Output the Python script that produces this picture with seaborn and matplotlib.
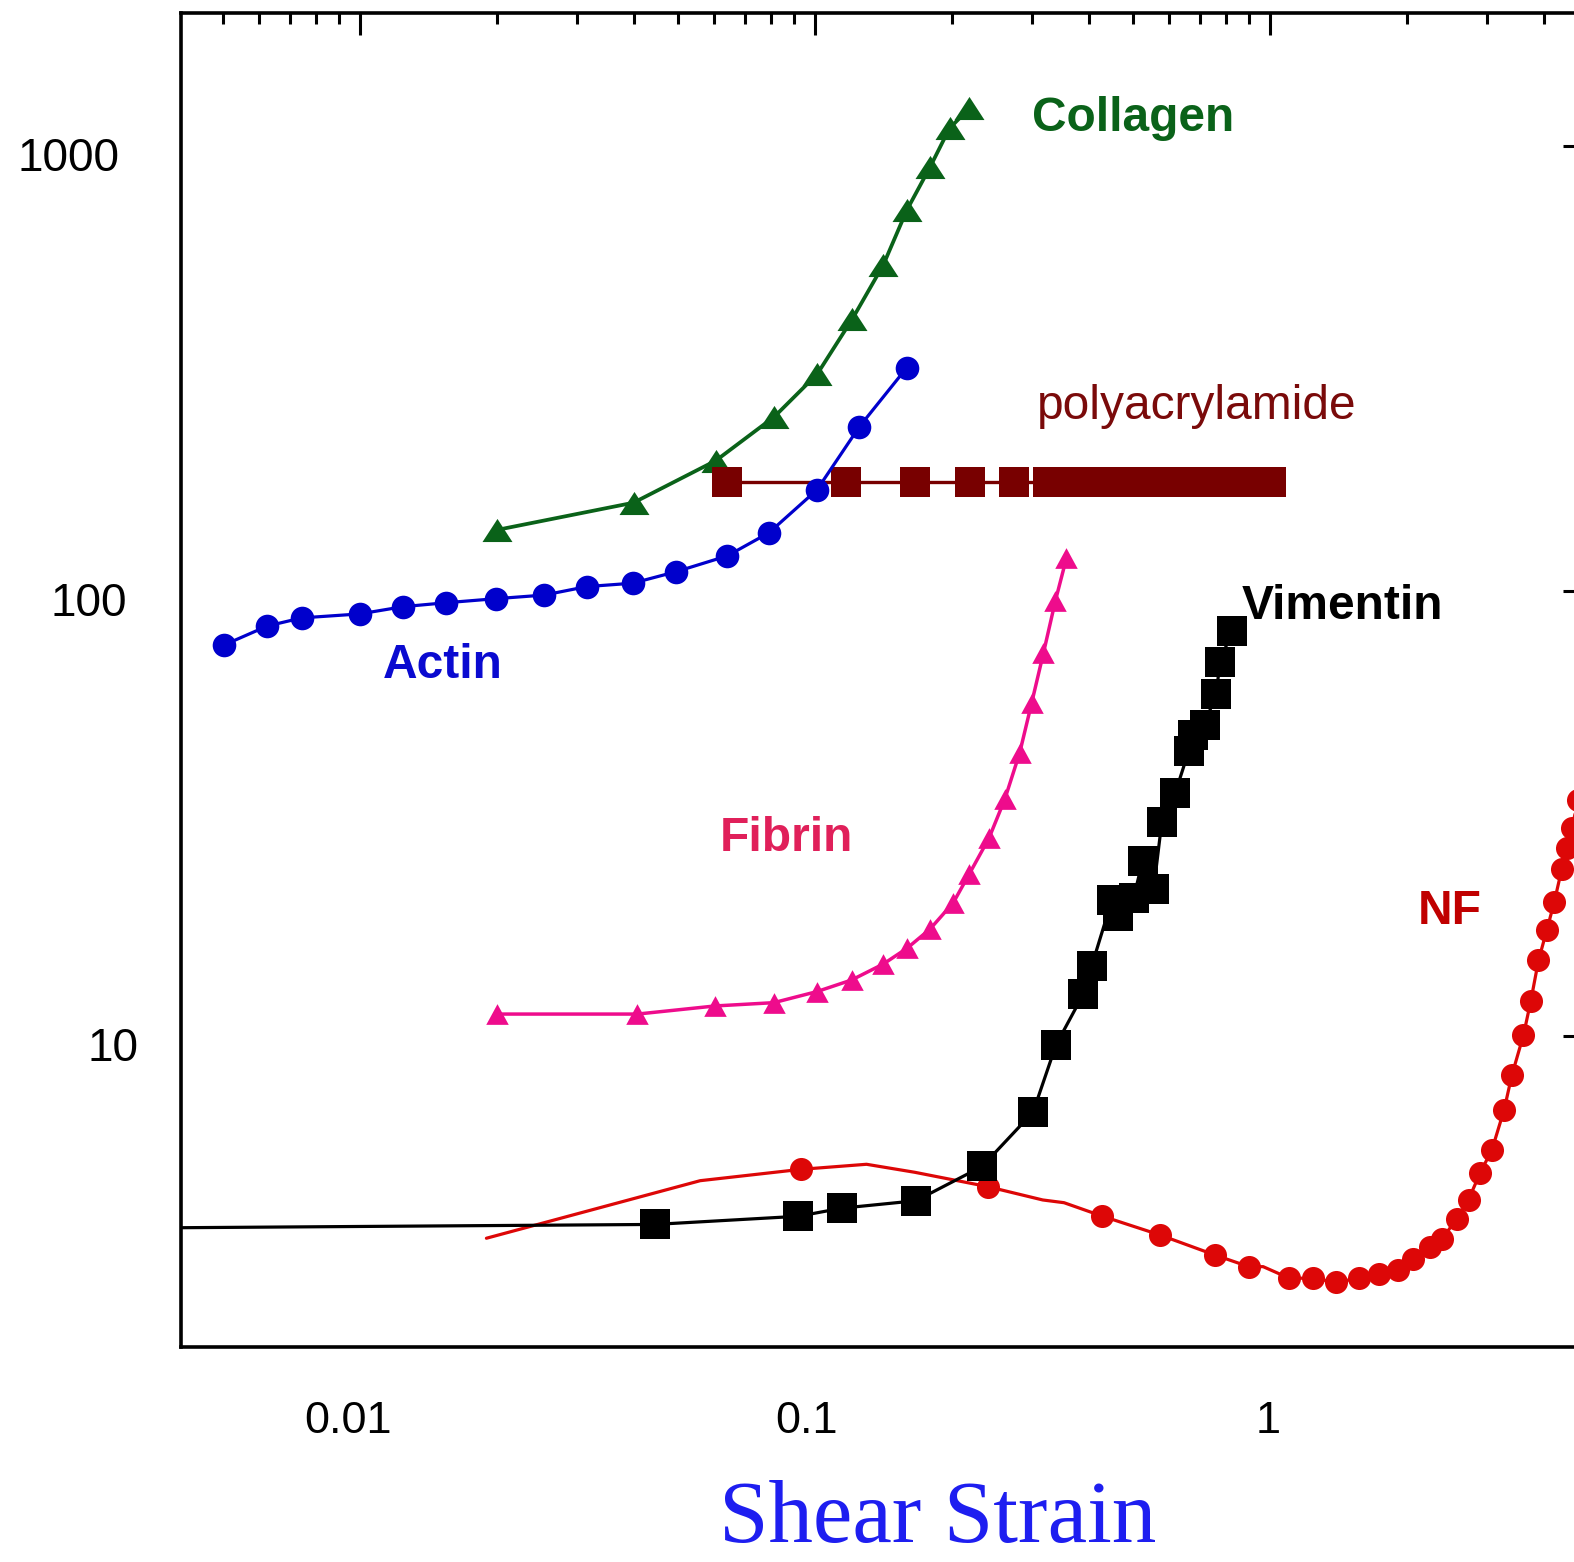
import numpy as np
import matplotlib
matplotlib.use("Agg")
import matplotlib.pyplot as plt
from matplotlib.transforms import ScaledTranslation
from matplotlib.ticker import NullFormatter, LogLocator
import seaborn as sns

# ---------------- data ----------------
actin_x = [0.00502, 0.00625, 0.00744, 0.00998, 0.01243, 0.01545, 0.0199, 0.02537,
           0.0315, 0.0397, 0.0495, 0.0641, 0.0792, 0.1009, 0.125, 0.1588]
actin_y = [75.6, 83.4, 87.0, 88.8, 92.2, 94.1, 96.1, 97.9,
           102.3, 104.1, 110.5, 119.9, 135.2, 168.7, 233.7, 317.0]

collagen_x = [0.01995, 0.0399, 0.0605, 0.0814, 0.1011, 0.1206, 0.1412, 0.1591,
              0.1788, 0.1974, 0.2183]
collagen_y = [137.1, 157.9, 196.3, 246.5, 307.4, 407.9, 540.4, 718.1,
              895.7, 1096, 1215]

paa_x = [0.064, 0.117, 0.166, 0.219, 0.274, 0.325, 0.378, 0.430, 0.483, 0.535,
         0.587, 0.640, 0.692, 0.744, 0.796, 0.849, 0.901, 0.953, 1.005]
paa_y = [175.5, 175.5, 175.5, 175.5, 175.5, 175.5, 175.5, 175.5, 175.5, 175.5,
         175.5, 175.5, 175.5, 175.5, 175.5, 175.5, 175.5, 175.5, 175.5]

fibrin_x = [0.02, 0.0407, 0.0603, 0.0811, 0.1009, 0.1203, 0.1412, 0.1592, 0.1789,
            0.2012, 0.218, 0.241, 0.2611, 0.2816, 0.299, 0.3176, 0.3372, 0.3566]
fibrin_y = [11.2, 11.2, 11.68, 11.88, 12.58, 13.36, 14.51, 15.74, 17.39,
            19.93, 23.09, 27.82, 34.03, 43.3, 55.9, 72.6, 94.9, 118.4]

vim_x = [0.003, 0.0444, 0.0919, 0.1144, 0.1666, 0.2328, 0.3013, 0.3384, 0.3888,
         0.405, 0.449, 0.4634, 0.501, 0.5243, 0.5546, 0.5778, 0.6186, 0.6624,
         0.6761, 0.7178, 0.7605, 0.7765, 0.8228]
vim_y = [3.70, 3.771, 3.934, 4.102, 4.263, 5.09, 6.743, 9.55, 12.43,
         14.33, 20.21, 18.58, 20.42, 24.71, 21.39, 30.2, 35.16, 43.7,
         47.54, 50.1, 58.7, 69.25, 81.1]

nf_x = [0.01895, 0.0559, 0.0932, 0.1297, 0.1656, 0.2399, 0.3164, 0.3524, 0.4265,
        0.5726, 0.7551, 0.8975, 0.9652, 1.1015, 1.2403, 1.397, 1.567, 1.734,
        1.914, 2.065, 2.247, 2.385, 2.572, 2.729, 2.894, 3.072, 3.268, 3.398,
        3.604, 3.741, 3.888, 4.056, 4.210, 4.377, 4.489, 4.604, 4.75]
nf_y = [3.511, 4.729, 5.016, 5.148, 4.939, 4.584, 4.280, 4.220, 3.940,
        3.571, 3.221, 3.031, 3.031, 2.855, 2.855, 2.796, 2.855, 2.919,
        2.972, 3.155, 3.348, 3.496, 3.884, 4.286, 4.925, 5.546, 6.83, 8.16,
        10.05, 12.0, 14.78, 17.31, 19.97, 23.78, 26.5, 29.27, 33.9]
nf_marked = [2, 5, 8, 9, 10, 11, 13, 14, 15, 16, 17, 18, 19, 20, 21, 22, 23, 24,
             25, 26, 27, 28, 29, 30, 31, 32, 33, 34, 35, 36]

x_ticks = [0.01, 0.1, 1]
x_tick_labels = ["0.01", "0.1", "1"]
y_ticks = [10, 100, 1000]
y_tick_labels = ["10", "100", "1000"]

labels = ["Collagen", "polyacrylamide", "Actin", "Fibrin", "Vimentin", "NF"]
label_x = [0.2998, 0.307, 0.01123, 0.0618, 0.868, 2.115]
label_y = [1081, 244, 63.6, 26.04, 86.5, 17.89]

# ---------------- style ----------------
sns.set_style("white")
plt.rcParams["font.family"] = ["Liberation Sans", "DejaVu Sans"]

W, H = 1574, 1562
fig = plt.figure(figsize=(W / 100, H / 100), dpi=100)
ax = fig.add_axes([181 / W, (H - 1347) / H, 1404 / W, 1334 / H])
ax.set_xscale("log")
ax.set_yscale("log")

col_actin = "#0000cc"
col_coll = "#0a6219"
col_paa = "#780000"
col_fib = "#ee0c8c"
col_vim = "#000000"
col_nf = "#dd0707"

tri_coll = [(0, 0.77), (-1, -0.77), (1, -0.77)]
tri_fib = [(0, 0.92), (-1, -0.92), (1, -0.92)]


def draw(x, y, color, marker, ms, lw, **kw):
    sns.lineplot(x=x, y=y, ax=ax, color=color, marker=marker, markersize=ms,
                 markeredgewidth=0, markeredgecolor=color, linewidth=lw,
                 estimator=None, sort=False, legend=False, **kw)


draw(nf_x, nf_y, col_nf, "o", 16.6, 2.3, markevery=nf_marked)
draw(vim_x, vim_y, col_vim, "s", 20.9, 2.3)
draw(fibrin_x, fibrin_y, col_fib, tri_fib, 16.2, 2.5)
draw(collagen_x, collagen_y, col_coll, tri_coll, 21.6, 2.7)
draw(paa_x, paa_y, col_paa, "s", 20.9, 2.4)
draw(actin_x, actin_y, col_actin, "o", 17.0, 2.3)

ax.set_xlim(0.00404, 4.92)
ax.set_ylim(2.0, 1990)

# ticks
ax.set_xticks(x_ticks, labels=x_tick_labels)
ax.set_yticks(y_ticks, labels=y_tick_labels)
ax.xaxis.set_minor_locator(LogLocator(base=10, subs=np.arange(2, 10) * 1.0, numticks=50))
ax.yaxis.set_minor_locator(LogLocator(base=10, subs=np.arange(2, 10) * 1.0, numticks=50))
ax.xaxis.set_minor_formatter(NullFormatter())
ax.yaxis.set_minor_formatter(NullFormatter())
ax.tick_params(which="both", direction="in", top=True, right=True,
               color="black", width=2.2, labelcolor="black")
ax.tick_params(which="major", length=16)
ax.tick_params(which="minor", length=8)
ax.tick_params(axis="x", which="major", labelsize=32.5, pad=39)
ax.tick_params(axis="y", which="major", labelsize=33, pad=44)

for sp in ax.spines.values():
    sp.set_visible(True)
    sp.set_color("black")
    sp.set_linewidth(2.6)

# per-label nudges (pixels) to match the reference placement
for lab, dx in zip(ax.get_xticklabels(), [-12, -9, -2]):
    lab.set_transform(lab.get_transform() + ScaledTranslation(dx / 100, 0, fig.dpi_scale_trans))
for lab, dx in zip(ax.get_yticklabels(), [19, 7, 0]):
    lab.set_transform(lab.get_transform() + ScaledTranslation(dx / 100, -8 / 100, fig.dpi_scale_trans))

# series labels
label_colors = [col_coll, "#7a0a0a", "#0a0ad0", "#e0205a", "#000000", "#c00000"]
label_weights = ["bold", "normal", "bold", "bold", "bold", "bold"]
for t, lx, ly, c, w in zip(labels, label_x, label_y, label_colors, label_weights):
    ax.text(lx, ly, t, color=c, fontsize=34.5, fontweight=w, ha="left", va="baseline")

ax.set_xlabel("Shear Strain", fontsize=64, color="#1e1ef0", family="Liberation Serif")
ax.xaxis.set_label_coords(0.539, -0.1465)
ax.xaxis.label.set_verticalalignment("baseline")
ax.set_ylabel("")

fig.savefig("out.png", dpi=100)
